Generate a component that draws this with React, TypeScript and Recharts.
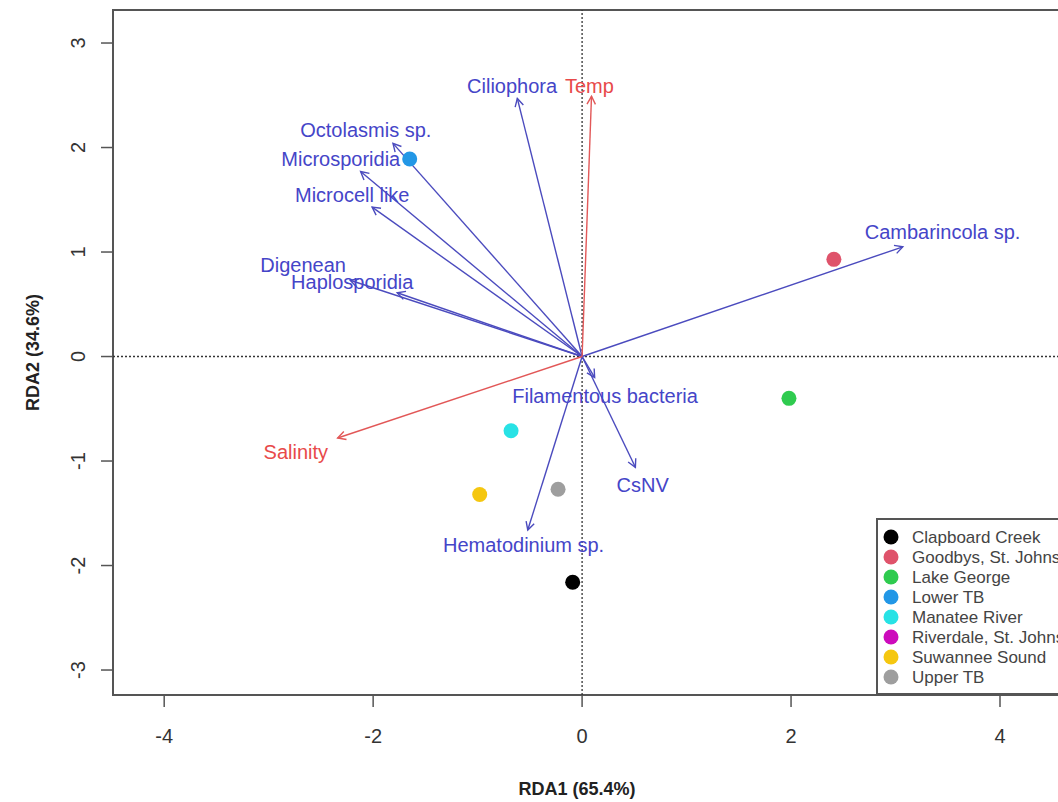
import React from 'react';
import {
  ScatterChart,
  Scatter,
  XAxis,
  YAxis,
  ReferenceLine,
  ReferenceArea,
  Label,
  Legend,
} from 'recharts';

// ---- Sites (sample scores) ----
const sites = [
  'Clapboard Creek',
  'Goodbys, St. Johns',
  'Lake George',
  'Lower TB',
  'Manatee River',
  'Riverdale, St. Johns',
  'Suwannee Sound',
  'Upper TB',
];
const siteColors = ['#000000', '#DF536B', '#2FCB4F', '#2297E6', '#28E2E5', '#CD0BBC', '#F5C710', '#9E9E9E'];
const siteRDA1: (number | null)[] = [-0.09, 2.41, 1.98, -1.65, -0.68, null, -0.98, -0.23];
const siteRDA2: (number | null)[] = [-2.16, 0.93, -0.4, 1.89, -0.71, null, -1.32, -1.27];

// ---- Species (response arrows) ----
const species = [
  'Ciliophora',
  'Octolasmis sp.',
  'Microsporidia',
  'Microcell like',
  'Digenean',
  'Haplosporidia',
  'Cambarincola sp.',
  'Filamentous bacteria',
  'CsNV',
  'Hematodinium sp.',
];
const speciesRDA1 = [-0.62, -1.81, -2.12, -2.01, -2.22, -1.77, 3.07, 0.12, 0.51, -0.52];
const speciesRDA2 = [2.47, 2.04, 1.77, 1.43, 0.73, 0.61, 1.05, -0.2, -1.06, -1.66];
const speciesLabelRDA1 = [-0.67, -2.07, -2.31, -2.2, -2.67, -2.2, 3.45, 0.22, 0.58, -0.56];
const speciesLabelRDA2 = [2.59, 2.17, 1.89, 1.55, 0.88, 0.71, 1.19, -0.38, -1.23, -1.8];

// ---- Environmental variables ----
const envVars = ['Temp', 'Salinity'];
const envRDA1 = [0.09, -2.34];
const envRDA2 = [2.49, -0.78];
const envLabelRDA1 = [0.07, -2.74];
const envLabelRDA2 = [2.59, -0.91];

// ---- Axes ----
const xTicks = [-4, -2, 0, 2, 4];
const yTicks = [-3, -2, -1, 0, 1, 2, 3];
const xDomain: [number, number] = [-4.49, 4.67];
const yDomain: [number, number] = [-3.239, 3.316];
const xTitle = 'RDA1 (65.4%)';
const yTitle = 'RDA2 (34.6%)';

const FONT = '"Liberation Sans", Arial, Helvetica, sans-serif';
const NARROW = '"Liberation Sans Narrow", "Liberation Sans", Arial, sans-serif';
const BLUE_LINE = '#4B4BBE';
const BLUE_TEXT = '#4545C8';
const RED_LINE = '#E25858';
const RED_TEXT = '#E84A4A';
const FRAME = '#555555';

const speciesLabels = species.map((name, i) => ({
  x: speciesLabelRDA1[i],
  y: speciesLabelRDA2[i],
  name,
  color: BLUE_TEXT,
}));
const envLabels = envVars.map((name, i) => ({
  x: envLabelRDA1[i],
  y: envLabelRDA2[i],
  name,
  color: RED_TEXT,
}));

const makeArrowShape = (color: string) => (props: any) => {
  const { x1, y1, x2, y2 } = props;
  if ([x1, y1, x2, y2].some((v) => typeof v !== 'number' || isNaN(v))) return <g />;
  const a = Math.atan2(y2 - y1, x2 - x1);
  const L = 9;
  const phi = (28 * Math.PI) / 180;
  const hx1 = x2 - L * Math.cos(a - phi);
  const hy1 = y2 - L * Math.sin(a - phi);
  const hx2 = x2 - L * Math.cos(a + phi);
  const hy2 = y2 - L * Math.sin(a + phi);
  return (
    <g>
      <line x1={x1} y1={y1} x2={x2} y2={y2} stroke={color} strokeWidth={1.4} />
      <polyline
        points={`${hx1},${hy1} ${x2},${y2} ${hx2},${hy2}`}
        fill="none"
        stroke={color}
        strokeWidth={1.4}
      />
    </g>
  );
};

const TextShape = (props: any) => {
  const { cx, cy, payload } = props;
  return (
    <text
      x={cx}
      y={cy}
      textAnchor="middle"
      dominantBaseline="central"
      fontSize={20}
      fontFamily={FONT}
      fill={payload.color}
    >
      {payload.name}
    </text>
  );
};

const XTick = (props: any) => {
  const { x, y, payload } = props;
  return (
    <text x={x} y={y} textAnchor="middle" dominantBaseline="central" fontSize={20} fontFamily={NARROW} fill="#333">
      {payload.value}
    </text>
  );
};

const YTick = (props: any) => {
  const { x, y, payload } = props;
  return (
    <text
      x={x}
      y={y}
      transform={`rotate(-90 ${x} ${y})`}
      textAnchor="middle"
      dominantBaseline="central"
      fontSize={20}
      fontFamily={NARROW}
      fill="#333"
    >
      {payload.value}
    </text>
  );
};

const XTitleContent = (props: any) => {
  const vb = props.viewBox || {};
  return (
    <text
      x={vb.x + 464}
      y={vb.y + 94}
      textAnchor="middle"
      dominantBaseline="central"
      fontSize={18}
      fontWeight="bold"
      fontFamily={FONT}
      fill="#222"
    >
      {xTitle}
    </text>
  );
};

const YTitleContent = (props: any) => {
  const vb = props.viewBox || {};
  const x = vb.x + 25;
  const y = vb.y + vb.height / 2;
  return (
    <text
      x={x}
      y={y}
      transform={`rotate(-90 ${x} ${y})`}
      textAnchor="middle"
      dominantBaseline="central"
      fontSize={18}
      fontWeight="bold"
      fontFamily={FONT}
      fill="#222"
    >
      {yTitle}
    </text>
  );
};

const LegendBox = () => {
  const w = 194;
  const h = 177;
  return (
    <svg width={w} height={h} style={{ display: 'block' }}>
      <rect x={1} y={1} width={w - 2} height={h - 2} fill="#fff" stroke={FRAME} strokeWidth={2} />
      {sites.map((s, i) => (
        <g key={s}>
          <circle cx={15} cy={19 + i * 20} r={7.5} fill={siteColors[i]} />
          <text x={36} y={19 + i * 20} dominantBaseline="central" fontSize={17} fontFamily={FONT} fill="#444">
            {s}
          </text>
        </g>
      ))}
    </svg>
  );
};

export default function App() {
  return (
    <div
      style={{
        position: 'fixed',
        left: 0,
        top: 0,
        width: 1058,
        height: 802,
        overflow: 'hidden',
        background: '#fff',
      }}
    >
      <div style={{ position: 'absolute', left: 8, top: 8 }}>
        <ScatterChart width={1072} height={794} margin={{ top: 2, right: 10, bottom: 0, left: 0 }}>
          <XAxis
            type="number"
            dataKey="x"
            domain={xDomain}
            ticks={xTicks}
            allowDataOverflow
            axisLine={false}
            tickLine={{ stroke: FRAME, strokeWidth: 1.5 }}
            tickSize={12}
            tickMargin={29}
            height={107}
            tick={<XTick />}
            interval={0}
          >
            <Label content={<XTitleContent />} />
          </XAxis>
          <YAxis
            type="number"
            dataKey="y"
            domain={yDomain}
            ticks={yTicks}
            allowDataOverflow
            axisLine={false}
            tickLine={{ stroke: FRAME, strokeWidth: 1.5 }}
            tickSize={12}
            tickMargin={23}
            width={105}
            tick={<YTick />}
            interval={0}
          >
            <Label content={<YTitleContent />} />
          </YAxis>
          <ReferenceLine x={0} stroke="#333" strokeWidth={1.3} strokeDasharray="2 2" />
          <ReferenceLine y={0} stroke="#333" strokeWidth={1.3} strokeDasharray="2 2" />
          {species.map((s, i) => (
            <ReferenceLine
              key={s}
              segment={[
                { x: 0, y: 0 },
                { x: speciesRDA1[i], y: speciesRDA2[i] },
              ]}
              shape={makeArrowShape(BLUE_LINE)}
            />
          ))}
          {envVars.map((s, i) => (
            <ReferenceLine
              key={s}
              segment={[
                { x: 0, y: 0 },
                { x: envRDA1[i], y: envRDA2[i] },
              ]}
              shape={makeArrowShape(RED_LINE)}
            />
          ))}
          <Scatter data={speciesLabels} shape={<TextShape />} isAnimationActive={false} legendType="none" />
          <Scatter data={envLabels} shape={<TextShape />} isAnimationActive={false} legendType="none" />
          {sites.map((s, i) =>
            siteRDA1[i] === null ? null : (
              <Scatter
                key={s}
                name={s}
                data={[{ x: siteRDA1[i], y: siteRDA2[i] }]}
                fill={siteColors[i]}
                shape={(p: any) => <circle cx={p.cx} cy={p.cy} r={7.5} fill={siteColors[i]} />}
                isAnimationActive={false}
              />
            )
          )}
          <ReferenceArea
            x1={xDomain[0]}
            x2={xDomain[1]}
            y1={yDomain[0]}
            y2={yDomain[1]}
            fill="none"
            fillOpacity={0}
            stroke={FRAME}
            strokeWidth={2}
            ifOverflow="visible"
          />
          <Legend
            layout="vertical"
            align="center"
            verticalAlign="middle"
            content={<LegendBox />}
            wrapperStyle={{ position: 'absolute', left: 868, top: 510, width: 194, height: 177, margin: 0 }}
          />
        </ScatterChart>
      </div>
    </div>
  );
}
